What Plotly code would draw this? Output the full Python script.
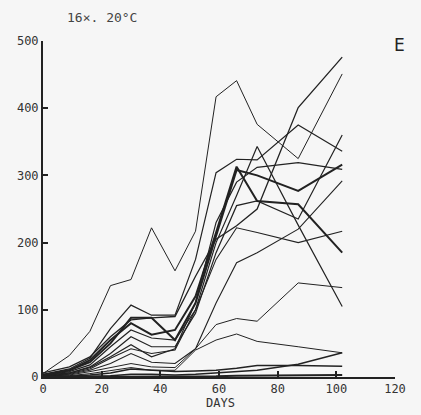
import plotly.graph_objects as go

DAYS = [0, 9, 16, 23, 30, 37, 45, 52, 59, 66, 73, 87, 102]

S1 = [5, 32, 68, 136, 145, 222, 158, 217, 417, 441, 376, 325, 451]
S2 = [6, 15, 30, 60, 85, 88, 90, 150, 205, 225, 250, 401, 476]
S3 = [4, 12, 28, 72, 107, 92, 92, 175, 304, 324, 323, 375, 336]
S4 = [3, 10, 25, 55, 80, 63, 70, 120, 215, 313, 262, 257, 185]
S5 = [3, 10, 22, 50, 88, 88, 55, 110, 210, 308, 300, 277, 316]
S6 = [2, 8, 18, 45, 70, 58, 55, 100, 200, 270, 343, 226, 105]
S7 = [2, 6, 15, 35, 60, 45, 45, 95, 185, 255, 262, 235, 360]
S8 = [2, 6, 14, 30, 48, 30, 42, 111, 230, 290, 312, 319, 309]
S9 = [1, 5, 12, 28, 42, 35, 40, 100, 175, 222, 215, 200, 217]
S10 = [1, 4, 10, 20, 35, 22, 20, 42, 110, 170, 185, 220, 292]
S11 = [1, 3, 8, 14, 20, 15, 14, 42, 78, 87, 83, 140, 133]
S12 = [1, 2, 5, 10, 14, 10, 10, 40, 55, 64, 53, 45, 36]
S13 = [0, 1, 3, 6, 12, 10, 8, 9, 10, 13, 17, 17, 16]
S14 = [0, 0, 1, 2, 4, 4, 3, 4, 6, 8, 10, 19, 36]
S15 = [0, 0, 0, 0, 1, 1, 1, 1, 1, 2, 2, 2, 3]

SERIES = [S1, S2, S3, S4, S5, S6, S7, S8, S9, S10, S11, S12, S13, S14, S15]
WIDTHS = [1, 1.3, 1.2, 2, 2, 1.2, 1.2, 1.2, 1.1, 1.1, 1, 1, 1.5, 1.5, 2]

X_TICKS = [0, 20, 40, 60, 80, 100, 120]
Y_TICKS = [0, 100, 200, 300, 400, 500]

fig = go.Figure()
for vals, w in zip(SERIES, WIDTHS):
    fig.add_trace(go.Scatter(x=DAYS, y=vals, mode="lines",
                             line=dict(color="#222222", width=w),
                             showlegend=False, hoverinfo="skip"))

font = dict(family="DejaVu Sans Mono", size=12, color="#333333")
fig.update_layout(
    width=421, height=415,
    margin=dict(l=43, r=26, t=41, b=37.5),
    paper_bgcolor="#f6f6f6", plot_bgcolor="#f6f6f6",
    font=font,
    xaxis=dict(range=[0, 120], tickvals=X_TICKS, ticks="inside", ticklen=6,
               tickwidth=1.5, tickcolor="#222", showline=True, linecolor="#222",
               linewidth=2, showgrid=False, zeroline=False, fixedrange=True),
    yaxis=dict(range=[0, 500], tickvals=Y_TICKS, ticks="inside", ticklen=5,
               tickwidth=1.5, tickcolor="#222", showline=True, linecolor="#222",
               linewidth=2, showgrid=False, zeroline=False, fixedrange=True),
    annotations=[
        dict(text="16×. 20°C", xref="paper", yref="paper", x=0.0625, y=1.069,
             xanchor="left", yanchor="middle", showarrow=False,
             font=dict(family="DejaVu Sans Mono", size=13, color="#444")),
        dict(text="E", xref="paper", yref="paper", x=1.014, y=0.988,
             xanchor="center", yanchor="middle", showarrow=False,
             font=dict(family="DejaVu Sans", size=17, color="#222")),
        dict(text="DAYS", xref="paper", yref="paper", x=0.503, y=-0.078,
             xanchor="center", yanchor="middle", showarrow=False,
             font=dict(family="DejaVu Sans Mono", size=12, color="#333")),
    ],
)

fig.write_html("out.html", config={"displayModeBar": False},
               post_script="document.body.style.margin='0';document.body.style.overflow='hidden';")
